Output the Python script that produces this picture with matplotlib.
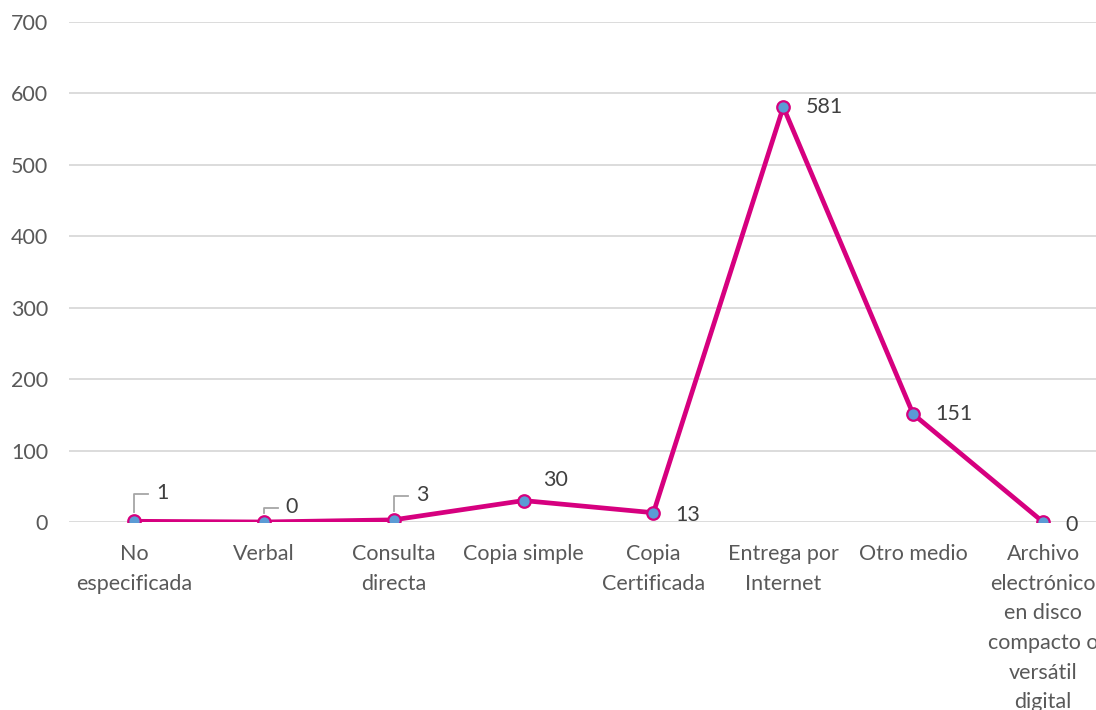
import matplotlib
matplotlib.use("Agg")
import matplotlib.pyplot as plt
import matplotlib.lines as mlines

categories = ["No\nespecificada", "Verbal", "Consulta\ndirecta", "Copia simple",
              "Copia\nCertificada", "Entrega por\nInternet", "Otro medio",
              "Archivo\nelectrónico\nen disco\ncompacto o\nversátil\ndigital"]
values = [1, 0, 3, 30, 13, 581, 151, 0]
yticks = [0, 100, 200, 300, 400, 500, 600, 700]

plt.rcParams['font.family'] = ['Lato', 'DejaVu Sans']
FS = 15.5

fig = plt.figure(figsize=(10.96, 7.10), dpi=100)
ax = fig.add_axes([69/1096, 188/710, 1039/1096, 500/710])
ax.set_xlim(-0.5, 7.5)
ax.set_ylim(0, 700)
x = list(range(len(values)))

ax.set_yticks(yticks)
ax.grid(axis='y', color='#D9D9D9', linewidth=1.3)
ax.set_axisbelow(True)
for s in ax.spines.values():
    s.set_visible(False)
ax.tick_params(length=0, labelsize=FS, colors='#595959')
ax.tick_params(axis='y', pad=15)
ax.set_xticks(x)
ax.set_xticklabels(categories, linespacing=1.6)
ax.tick_params(axis='x', pad=16)

ax.plot(x, values, color='#D6007F', linewidth=3.4, marker='o', markersize=9,
        markerfacecolor='#5B9BD5', markeredgecolor='#D6007F', markeredgewidth=1.6,
        solid_joinstyle='round', zorder=3)

fig.canvas.draw()
# labels with leader lines (small values)
leader = {0: 27, 1: 14, 2: 24}
for i, dy in leader.items():
    v = values[i]
    ax.annotate(str(v), (i, v), xytext=(22, dy + 1), textcoords='offset pixels',
                fontsize=FS, color='#404040', va='center', ha='left')
    px, py = ax.transData.transform((i, v))
    xs = [px, px, px + 14]
    ys = [py + 9, py + dy, py + dy]
    ln = mlines.Line2D(xs, ys, transform=None, color='#A6A6A6', linewidth=1.3, zorder=2)
    fig.add_artist(ln)

offsets = {3: (20, 21), 4: (22, -2), 5: (22, 0), 6: (22, 0), 7: (22, -3)}
for i, (dx, dy) in offsets.items():
    ax.annotate(str(values[i]), (i, values[i]), xytext=(dx, dy), textcoords='offset pixels',
                fontsize=FS, color='#404040', va='center', ha='left')

fig.savefig("out.png", dpi=100)
